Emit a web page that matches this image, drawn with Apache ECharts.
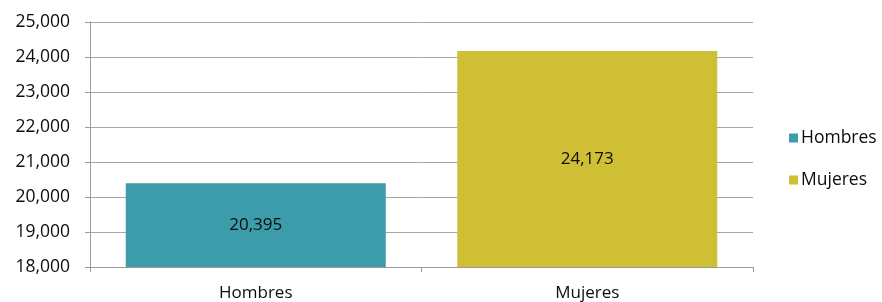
<!DOCTYPE html>
<html>
<head>
<meta charset="utf-8">
<script src="https://cdn.jsdelivr.net/npm/echarts@6/dist/echarts.min.js"></script>
<style>html,body{margin:0;padding:0;background:#fff}#c{width:882px;height:302px}</style>
</head>
<body>
<div id="c"></div>
<script>
const categories = ['Hombres', 'Mujeres'];
const seriesNames = ['Hombres', 'Mujeres'];
const hombresValues = [20395, null];
const mujeresValues = [null, 24173];
const yMin = 18000, yMax = 25000, yStep = 1000;

const colors = ['#3D9CA9', '#CFBF35'];
const font = 'Open Sans';
const chart = echarts.init(document.getElementById('c'));
const fmt = v => v.toLocaleString('en-US');
chart.setOption({
  animation: false,
  textStyle: { fontFamily: font },
  grid: { left: 90, right: 129, top: 22, bottom: 35, containLabel: false },
  legend: {
    orient: 'vertical', left: 784, top: 124,
    itemWidth: 9, itemHeight: 9, itemGap: 24,
    icon: 'rect',
    textStyle: { fontFamily: font, fontSize: 17.5, color: '#0d0d0d', padding: [0,0,0,-2] },
    data: seriesNames
  },
  xAxis: {
    type: 'category', data: categories,
    axisLine: { lineStyle: { color: '#9a9a9a', width: 1 } },
    axisTick: { show: true, length: 5, lineStyle: { color: '#9a9a9a' } },
    axisLabel: { fontFamily: font, fontSize: 17, color: '#0d0d0d', margin: 18 }
  },
  yAxis: {
    type: 'value', min: yMin, max: yMax, interval: yStep,
    axisLine: { show: true, lineStyle: { color: '#9a9a9a', width: 1 } },
    axisTick: { show: true, length: 5, lineStyle: { color: '#9a9a9a' } },
    splitLine: { lineStyle: { color: '#a6a6a6', width: 1 } },
    axisLabel: { fontFamily: font, fontSize: 17.5, color: '#0d0d0d', margin: 20, formatter: fmt }
  },
  series: [
    { name: seriesNames[0], type: 'bar', data: hombresValues, barWidth: 260, barGap: '-100%',
      itemStyle: { color: colors[0] },
      label: { show: true, position: 'inside', fontFamily: font, fontSize: 17, color: '#0d0d0d', formatter: p => fmt(p.value) } },
    { name: seriesNames[1], type: 'bar', data: mujeresValues, barWidth: 260, barGap: '-100%',
      itemStyle: { color: colors[1] },
      label: { show: true, position: 'inside', fontFamily: font, fontSize: 17, color: '#0d0d0d', formatter: p => fmt(p.value) } }
  ]
});
</script>
</body>
</html>
